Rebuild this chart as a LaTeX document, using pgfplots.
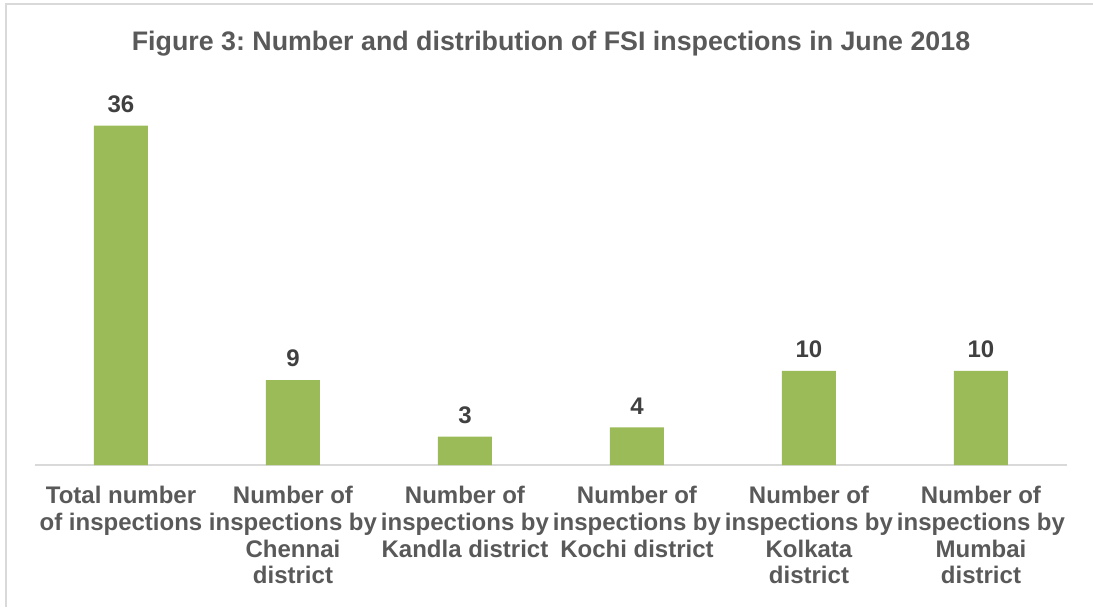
\documentclass[border=0pt]{standalone}
\usepackage{fontspec}
\setmainfont{Liberation Sans}
\usepackage{pgfplots}
\pgfplotsset{compat=1.18}
\definecolor{bargreen}{HTML}{9BBB59}
\definecolor{txt}{HTML}{595959}
\definecolor{numtxt}{HTML}{404040}
\definecolor{axisgray}{HTML}{D9D9D9}
\frenchspacing
\begin{document}
\begin{tikzpicture}
\useasboundingbox (-17.5pt,-71pt) rectangle (529pt,232.5pt);
\draw[axisgray, line width=0.8pt] (-14.5pt,-71pt) -- (-14.5pt,230.5pt) -- (529pt,230.5pt);
\begin{axis}[
  scale only axis,
  width=516pt, height=188.5pt,
  xmin=-0.5, xmax=5.5, ymin=0, ymax=40,
  axis x line*=bottom,
  axis y line=none,
  x axis line style={axisgray, line width=0.8pt, -},
  xtick={0,1,2,3,4,5},
  xtick style={draw=none},
  xticklabels={Total number\\of inspections, Number of\\inspections by\\Chennai\\district, Number of\\inspections by\\Kandla district, Number of\\inspections by\\Kochi district, Number of\\inspections by\\Kolkata\\district, Number of\\inspections by\\Mumbai\\district},
  xticklabel style={align=center, font=\fontsize{12}{13.5}\selectfont\bfseries, text=txt, anchor=north, yshift=-2.5pt},
  ybar, bar width=27pt,
  nodes near coords,
  /pgf/number format/assume math mode=true,
  every node near coord/.append style={font=\fontsize{12}{14}\selectfont\bfseries, text=numtxt, yshift=3pt},
  title={\frenchspacing Figure 3: Number and distribution of FSI inspections in June 2018},
  title style={font=\fontsize{13.4}{15}\selectfont\bfseries, text=txt, at={(0.5,1)}, anchor=center, yshift=16pt},
]
\addplot[fill=bargreen, draw=none] coordinates {(0,36) (1,9) (2,3) (3,4) (4,10) (5,10)};
\end{axis}
\end{tikzpicture}
\end{document}
